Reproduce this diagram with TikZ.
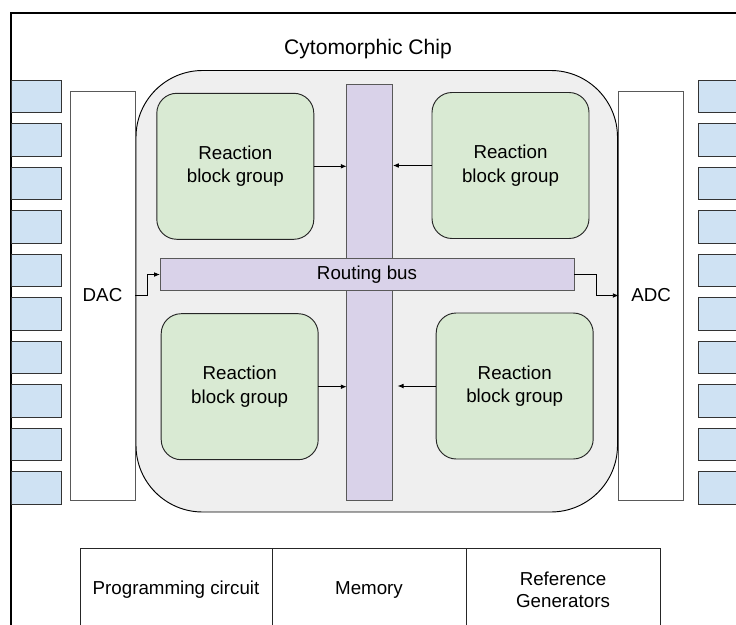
\documentclass[tikz,border=0pt]{standalone}
\usepackage{fontspec}
\setmainfont{Liberation Sans}
\usetikzlibrary{positioning,arrows.meta,calc}
\definecolor{chipgray}{HTML}{EFEFEF}
\definecolor{rbgreen}{HTML}{D9EAD3}
\definecolor{buspurple}{HTML}{D9D2E9}
\definecolor{padblue}{HTML}{CFE2F3}
\definecolor{edgegray}{HTML}{595959}
\tikzset{
  px/.style={x=0.03cm,y=-0.03cm},
  sz/.style 2 args={minimum width=#1*0.03cm,minimum height=#2*0.03cm,inner sep=0pt,outer sep=0pt},
  pad/.style={draw=black!80,fill=padblue,line width=0.8pt,sz={50}{32.5}},
  conv/.style={draw=edgegray,fill=white,line width=0.8pt,sz={65}{409},font=\fontsize{16}{19}\selectfont},
  rblock/.style={draw=black!85,fill=rbgreen,line width=0.8pt,rounded corners=0.6cm,sz={157}{146},
    align=center,font=\fontsize{16}{20}\selectfont},
  busbar/.style={draw=edgegray,fill=buspurple,line width=0.8pt,font=\fontsize{16}{19}\selectfont},
  unitbox/.style={draw=black!85,line width=0.8pt,sz={#1}{84},align=center,font=\fontsize{16}{18.5}\selectfont},
  link/.style={-{Latex[length=5pt,width=4pt]},line width=0.7pt},
}
\begin{document}
\begin{tikzpicture}[px]
  \useasboundingbox (0,0) rectangle (736,625);
  \clip (0,0) rectangle (736,625);
  % outer frame, runs off the page
  \draw[line width=0.9pt] (11,640) -- (11,13) -- (750,13);
  % chip body
  \node[draw=black,fill=chipgray,line width=0.8pt,rounded corners=2cm,sz={481.5}{441.5}] (chip) at (376.75,291.25) {};
  \node[font=\fontsize{18}{22}\selectfont] (title) at (368,49) {Cytomorphic Chip};
  % reaction block groups
  \node[rblock] (tlg) at (235.3,166.3) {Reaction\\block group};
  \node[rblock] (trg) at (510.5,165.5) {Reaction\\block group};
  \node[rblock] (blg) at (239.7,386.7) {Reaction\\block group};
  \node[rblock] (brg) at (514.7,386) {Reaction\\block group};
  % buses
  \node[busbar,sz={46.3}{416.3}] (vbar) at (369.8,292.2) {};
  \node[busbar,sz={414}{32.4}] (bus) at (367,274.5) {Routing bus};
  \draw[link] (tlg.east) -- (tlg.east -| vbar.west);
  \draw[link] (trg.west) -- (trg.west -| vbar.east);
  \draw[link] (blg.east) -- (blg.east -| vbar.west);
  \draw[link,shorten >=4pt] (brg.west) -- (brg.west -| vbar.east);
  % converters
  \node[conv] (dac) at (102.5,295.5) {DAC};
  \node[conv] (adc) at (651.2,295.5) {ADC};
  \draw[link] (dac.east) -- ++(12,0) |- (bus.west);
  \draw[link] (bus.east) -- ++(22,0) |- (adc.west);
  % I/O pads
  \foreach \i in {0,...,9}{
    \node[pad] (lp\i) at (36,96.25+43.5*\i) {};
    \node[pad] (rp\i) at (723,96.25+43.5*\i) {};
  }
  % support circuits
  \node[unitbox=192] (prog) at (176,590) {Programming circuit};
  \node[unitbox=194] (mem) at (369,590) {Memory};
  \node[unitbox=194] (refgen) at (563,590) {Reference\\Generators};
\end{tikzpicture}
\end{document}
